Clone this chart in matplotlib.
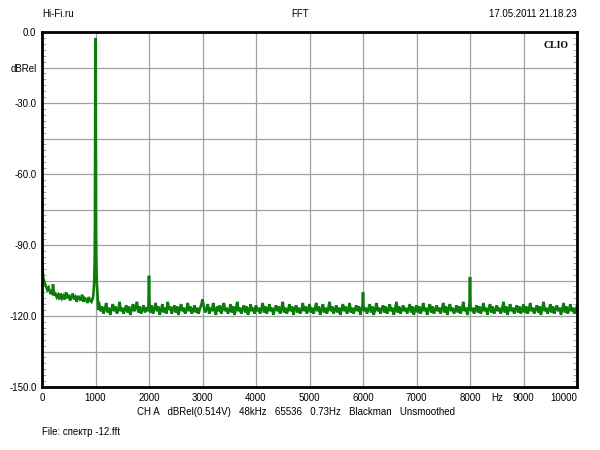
import numpy as np
import matplotlib
matplotlib.use("Agg")
import matplotlib.pyplot as plt
from matplotlib.ticker import MultipleLocator

plt.rcParams['font.family'] = ['Liberation Sans', 'DejaVu Sans']

# Noise floor read every 25 Hz (0 .. 10000 Hz), dBRel
floor_step = 25
floor_levels = [
    -97, -104, -106, -107.5, -109, -108, -110, -109.5, -110, -111, -110.5, -112, -111, -113, -110.5, -112.5, -111.5, -113, -110, -112.5,
    -111, -113.5, -112, -110.5, -113, -112, -114, -111.5, -112.5, -113.5, -111, -114, -112.5, -113, -114.5, -112, -113.5, -114, -112.5, -114.5,
    -114, -115, -117.5, -115.5, -118, -116, -119, -117, -114.5, -118.5, -116.5, -119.5, -117, -115, -118, -116, -119, -117.5, -114, -118,
    -116.5, -119, -117, -115.5, -118.5, -116, -119.5, -117.5, -115, -118, -116.5, -114, -118.5, -116, -119, -117, -115.5, -118.5, -116.5, -118,
    -116, -118.5, -115.5, -119, -117, -114.5, -118, -116, -119.5, -117.5, -115, -118.5, -116.5, -119, -114, -117.5, -116, -119, -117, -115.5,
    -118.5, -116, -119.5, -117, -115, -118, -116.5, -119, -117.5, -114.5, -118, -116, -119, -117.5, -115.5, -118.5, -116.5, -119, -117, -115.5,
    -113, -116, -118.5, -117, -115, -119, -116.5, -118, -114.5, -117.5, -119.5, -116, -118, -115.5, -119, -117, -114.5, -118, -116.5, -119,
    -117.5, -115, -118.5, -116, -119.5, -117, -114, -118, -116.5, -119, -117, -115.5, -118.5, -116, -119.5, -117.5, -115, -118, -116.5, -119,
    -115.5, -118, -116.5, -119, -117, -114.5, -118.5, -116, -119, -117.5, -115, -118, -116.5, -119.5, -117, -115.5, -118, -116, -119, -117,
    -114, -118.5, -116.5, -119, -117.5, -115, -118, -116, -119.5, -117, -115.5, -118.5, -116.5, -119, -117.5, -114.5, -118, -116, -119, -117,
    -115, -118.5, -116.5, -119, -117, -114.5, -118, -116, -119.5, -117.5, -115, -118.5, -116.5, -119, -117, -114, -118, -116, -119, -117.5,
    -115.5, -118.5, -116.5, -119.5, -117, -115, -118, -116, -119, -117.5, -114.5, -118.5, -116.5, -119, -117, -115.5, -118, -116, -119.5, -117,
    -115, -118, -116.5, -119, -117, -115, -118.5, -116, -119.5, -117.5, -114.5, -118, -116.5, -119, -117, -115.5, -118.5, -116, -119, -117.5,
    -115, -118, -116.5, -119.5, -117, -114, -118.5, -116, -119, -117.5, -115.5, -118, -116.5, -119, -117, -115, -118.5, -116, -119.5, -117,
    -115.5, -118.5, -116, -119, -117.5, -114.5, -118, -116.5, -119.5, -117, -115, -118.5, -116, -119, -117.5, -115.5, -118, -116.5, -119, -117,
    -114.5, -118.5, -116, -119.5, -117, -115, -118, -116.5, -119, -117.5, -115.5, -118.5, -116, -119, -117, -114, -118, -116.5, -119.5, -117,
    -115, -118, -116.5, -119, -117, -115.5, -118.5, -116, -119, -117.5, -114.5, -118, -116.5, -119.5, -117, -115, -118.5, -116, -119, -117.5,
    -115.5, -118, -116.5, -119, -117, -114, -118.5, -116, -119.5, -117.5, -115, -118, -116.5, -119, -117, -115.5, -118.5, -116, -119, -117.5,
    -115, -118.5, -116, -119, -117.5, -114.5, -118, -116.5, -119, -117, -115.5, -118.5, -116, -119.5, -117, -114, -118, -116.5, -119, -117.5,
    -115, -118.5, -116, -119, -117, -115.5, -118, -116.5, -119.5, -117, -114.5, -118.5, -116, -119, -117.5, -115, -118, -116.5, -119, -117,
    -116,
]

# Spectral lines (fundamental and harmonics), Hz / dBRel
spike_freqs = [190, 205, 220,
               940, 960, 975, 985, 990, 994, 997, 1000, 1003, 1006, 1010, 1015, 1025, 1040, 1060,
               1990, 2000, 2010,
               5990, 6000, 6010,
               7990, 8000, 8010]
spike_levels = [-111, -106.5, -111,
                -113, -111, -106, -96, -80, -40, -10, -2.5, -10, -40, -80, -96, -106, -112, -114,
                -115, -103, -115,
                -116, -110, -116,
                -115, -103.5, -116]

x_ticks = [0, 1000, 2000, 3000, 4000, 5000, 6000, 7000, 8000, 9000, 10000]
x_labels = ['0', '1000', '2000', '3000', '4000', '5000', '6000', '7000', '8000', '9000', '10000']
y_ticks = [0, -15, -30, -45, -60, -75, -90, -105, -120, -135, -150]
y_labels = ['0.0', 'dBRel', '-30.0', '', '-60.0', '', '-90.0', '', '-120.0', '', '-150.0']

pts = {i * floor_step: v for i, v in enumerate(floor_levels)}
for f, v in zip(spike_freqs, spike_levels):
    pts[f] = v
freqs = np.array(sorted(pts))
levels = np.array([pts[f] for f in freqs])

fig = plt.figure(figsize=(6, 4.5), dpi=100)
ax = fig.add_axes([42/600, 1 - 387/450, 535/600, 355/450])
ax.plot(freqs, levels, color='#0a7d0a', lw=1.9, solid_joinstyle='miter')
ax.set_xlim(0, 10000)
ax.set_ylim(-150, 0)

ax.set_xticks(x_ticks)
ax.set_xticklabels(x_labels, fontsize=7)
ax.get_xticklabels()[-1].set_horizontalalignment('right')
ax.set_yticks(y_ticks)
ax.set_yticklabels(y_labels, fontsize=7)
ax.tick_params(axis='both', which='major', length=0, pad=4)
ax.yaxis.set_minor_locator(MultipleLocator(2.5))
ax.tick_params(axis='y', which='minor', direction='in', length=3, color='#999999',
               left=True, right=True)
ax.grid(True, which='major', color='#a0a0a0', lw=0.9)
ax.set_axisbelow(True)
for s in ax.spines.values():
    s.set_linewidth(2)
    s.set_color('black')

ax.annotate('Hz', xy=(8500, -150), xytext=(0, -4), textcoords='offset points',
            fontsize=7, ha='center', va='top', annotation_clip=False)

ax.text(0.985, 0.975, 'CLIO', transform=ax.transAxes, fontsize=7, fontweight='bold',
        family='Liberation Serif', ha='right', va='top')

fig.text(42/600, 1 - 14/450, 'Hi-Fi.ru', fontsize=7, ha='left', va='center')
fig.text(300/600, 1 - 14/450, 'FFT', fontsize=7, ha='center', va='center')
fig.text(577/600, 1 - 14/450, '17.05.2011 21.18.23', fontsize=7, ha='right', va='center')
fig.text(296/600, 1 - 412/450,
         'CH A   dBRel(0.514V)   48kHz   65536   0.73Hz   Blackman   Unsmoothed',
         fontsize=7, ha='center', va='center')
fig.text(42/600, 1 - 432/450, 'File: спектр -12.fft', fontsize=7, ha='left', va='center')

fig.savefig('out.png', dpi=100)
